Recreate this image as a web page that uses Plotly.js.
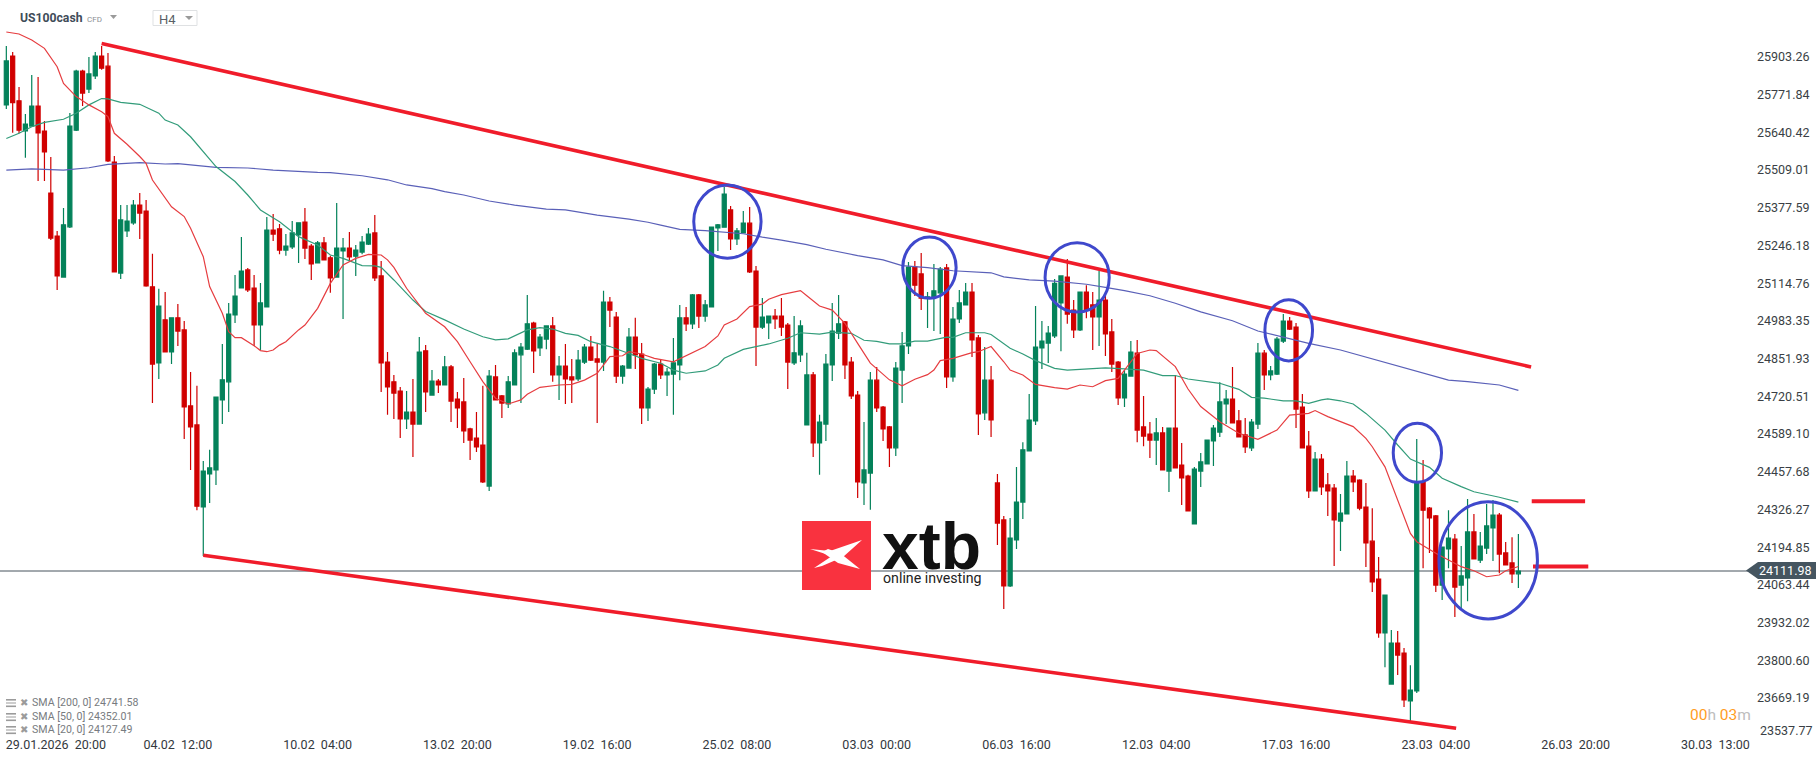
<!DOCTYPE html>
<html><head><meta charset="utf-8">
<script src="https://cdn.plot.ly/plotly-3.0.1.min.js"></script>
<style>html,body{margin:0;padding:0;background:#fff;overflow:hidden}#c{width:1816px;height:761px}</style>
</head><body><div id="c"></div>
<script>
const opens=[25736,25906,25750,25645,25662,25732,25645,25429,25279,25136,25311,25648,25854,25791,25837,25906,25871,25537,25150,25297,25325,25387,25366,25102,24837,24987,24875,24994,24952,24687,24621,24335,24450,24464,24708,24771,25004,25098,25161,25098,24969,25032,25300,25304,25230,25241,25283,25328,25244,25185,25255,25203,25136,
25227,25237,25209,25223,25251,25290,25140,24840,24771,24739,24642,24666,24624,24879,24725,24774,24760,24823,24711,24701,24607,24575,24551,24408,24788,24722,24694,24760,24865,24885,24976,24889,24920,24966,24795,24826,24788,24781,24840,24892,24851,24840,25049,24997,24791,24819,24927,24868,24680,24746,24833,24795,
24798,24830,24994,24973,25074,25000,25032,25307,25310,25370,25269,25290,25324,25157,24962,24976,25000,25000,24969,24837,24865,24621,24795,24558,24624,24830,24941,24980,24840,24725,24419,24453,24777,24683,24614,24541,24812,24896,25171,25147,25063,25067,25081,25168,24788,24990,25039,25084,24924,24663,24777,
24419,24290,24060,24220,24352,24530,24635,24889,24906,24931,25046,25136,25021,24952,25084,25039,24997,25056,24945,24840,24715,24791,24871,24614,24589,24568,24593,24460,24610,24481,24443,24276,24460,24485,24565,24596,24694,24711,24635,24586,24541,24624,24871,24795,24798,24913,24983,24962,24683,24547,24391,24502,24412,
24401,24286,24311,24443,24429,24335,24216,24084,23896,23718,23861,23826,23659,23694,24422,24331,24304,24063,24189,24223,24063,24088,24248,24150,24192,24262,24307,24175,24140,24102];
const highs=[25941,25920,25798,25704,25840,25833,25680,25554,25297,25377,25708,25858,25858,25903,25920,25941,25917,25558,25387,25387,25405,25429,25405,25217,25095,25084,24994,25042,24983,24805,24757,24495,24534,24718,24903,25046,25143,25276,25168,25143,25115,25345,25356,25321,25286,25331,25325,25377,25251,25262,25276,25210,25394,
25272,25293,25248,25279,25307,25352,25192,24875,24795,24753,24739,24781,24927,24899,24812,24781,24861,24830,24736,24784,24611,24666,24757,24812,24830,24725,24791,24885,24906,25074,24980,24938,24966,24997,24861,24903,24851,24882,24903,24931,24903,25088,25067,25014,24830,24959,24994,24906,24753,24837,24847,24819,
24924,25039,25032,25077,25077,25056,25310,25321,25450,25384,25307,25366,25380,25175,25063,25000,25025,25063,24976,25000,24986,24872,24805,24656,24868,25046,25074,24983,24858,24739,24631,24805,24823,24687,24617,24840,24945,25189,25192,25220,25084,25182,25171,25182,25032,25091,25115,25115,24934,24892,24826,
24450,24304,24297,24474,24561,24729,25035,24983,24966,25129,25140,25199,25056,25084,25108,25084,25157,25074,24990,24844,24812,24913,24917,24722,24631,24645,24614,24610,24795,24558,24447,24474,24523,24568,24621,24770,24743,24823,24673,24645,24642,24906,24882,24826,24927,25007,24997,24976,24729,24600,24527,24520,24453,
24415,24380,24495,24464,24432,24419,24331,24161,24028,23906,23903,23844,23784,24572,24499,24335,24307,24195,24324,24241,24199,24363,24311,24248,24345,24359,24314,24213,24230,24241];
const lows=[25722,25639,25637,25552,25662,25471,25471,25265,25091,25136,25307,25645,25732,25777,25826,25858,25537,25154,25129,25276,25318,25269,25102,24697,24781,24875,24833,24896,24572,24464,24324,24164,24349,24412,24624,24666,24976,25098,25084,24896,24882,25032,25262,25216,25210,25234,25185,25199,25126,25185,25196,25081,25136,
24990,25192,25140,25216,25248,25122,24736,24656,24642,24575,24607,24509,24624,24666,24725,24732,24760,24631,24610,24558,24499,24527,24419,24391,24708,24645,24680,24760,24697,24882,24802,24861,24885,24771,24708,24694,24697,24774,24833,24844,24628,24809,24962,24767,24764,24819,24816,24624,24635,24729,24781,24722,
24656,24777,24948,24955,24959,24980,25032,25227,25310,25230,25248,25290,25150,24826,24955,24920,24955,24931,24746,24830,24840,24621,24509,24447,24565,24774,24920,24781,24711,24366,24342,24325,24666,24565,24474,24513,24697,24868,25070,25021,24959,24948,24938,24750,24771,24976,25039,24858,24586,24638,24579,
24203,23980,24056,24189,24293,24530,24621,24816,24837,24924,24878,24973,24924,24948,24993,24882,24896,24861,24805,24690,24683,24791,24561,24547,24506,24481,24464,24387,24471,24342,24321,24276,24405,24485,24478,24579,24624,24628,24579,24523,24530,24607,24743,24777,24795,24906,24952,24610,24541,24366,24391,24377,24304,
24129,24182,24311,24387,24324,24126,24039,23879,23777,23718,23750,23638,23586,23687,24122,24175,24039,24011,24122,23952,23983,24007,24154,24140,24171,24147,24104,24133,24070,24053];
const closes=[25889,25744,25648,25669,25732,25638,25572,25272,25140,25318,25662,25854,25777,25844,25906,25864,25541,25154,25335,25331,25387,25359,25105,24833,25035,24875,24994,24948,24684,24614,24338,24460,24471,24718,24778,25007,25070,25157,25091,24969,25046,25300,25286,25230,25244,25290,25325,25237,25182,25255,25196,25133,25237,
25237,25206,25230,25258,25286,25133,24837,24753,24732,24642,24666,24624,24875,24736,24774,24760,24823,24704,24680,24600,24568,24544,24422,24791,24708,24697,24771,24872,24892,24973,24879,24927,24966,24795,24826,24781,24778,24847,24892,24847,24840,25049,25021,24791,24826,24927,24865,24680,24746,24833,24795,24805,
24837,24994,24973,25074,25000,25039,25310,25318,25425,25269,25297,25324,25154,24962,24997,25000,24990,24962,24840,24872,24966,24795,24558,24631,24833,24948,24973,24830,24722,24422,24464,24777,24680,24607,24541,24819,24896,25171,25108,25063,25067,25088,25164,24788,24990,25046,25084,24917,24659,24777,24638,
24279,24060,24227,24352,24534,24638,24892,24913,24941,25114,25140,25007,24952,25084,25021,24997,25056,24938,24833,24715,24798,24875,24603,24582,24568,24593,24464,24610,24471,24436,24321,24467,24492,24568,24610,24701,24711,24628,24579,24544,24631,24871,24795,24809,24920,24983,24955,24676,24541,24391,24502,24405,24391,
24290,24314,24443,24422,24331,24210,24074,23896,24028,23861,23819,23663,23697,24422,24324,24297,24063,24195,24227,24056,24095,24248,24154,24199,24269,24307,24171,24133,24102,24111.98];
if(new Set([opens.length,highs.length,lows.length,closes.length]).size!==1) throw new Error('lengths '+[opens.length,highs.length,lows.length,closes.length]);
const barIndex=opens.map((_,i)=>i);

const sma20Idx=[0,2,4,6,8,9,11,13,15,16,17,19,21,22,23,26,28,29,31,32,34,35,36,37,39,40,41,42,43,44,46,47,49,51,53,55,57,59,60,61,63,65,66,69,71,73,75,77,79,81,82,84,87,89,91,93,95,97,98,100,102,105,107,110,112,113,115,117,119,120,122,125,126,128,130,132,134,136,139,141,143,145,146,147,149,152,153,155,157,158,160,162,165,167,169,171,173,175,176,178,180,181,184,186,188,191,194,197,200,202,205,206,208,210,212,214,215,217,219,221,222,225,229,231,233,235,236,238];
const sma20Val=[25990,25983,25962,25933,25869,25811,25765,25736,25712,25695,25637,25599,25556,25532,25474,25381,25347,25306,25207,25103,25010,24946,24925,24925,24897,24880,24876,24882,24899,24911,24952,24969,25027,25114,25178,25201,25215,25213,25196,25170,25097,25039,25010,24963,24911,24841,24772,24714,24694,24708,24728,24752,24760,24762,24777,24801,24859,24862,24876,24868,24853,24841,24862,24894,24931,24969,24990,25033,25042,25059,25075,25089,25071,25035,25021,24975,24905,24836,24778,24757,24780,24796,24812,24845,24853,24873,24876,24894,24841,24812,24795,24762,24751,24746,24760,24754,24775,24783,24812,24870,24882,24880,24824,24746,24685,24632,24592,24571,24603,24655,24661,24671,24650,24632,24615,24574,24545,24475,24359,24243,24214,24174,24127,24113,24092,24098,24113,24127.49];
const sma50Idx=[0,2,4,6,9,11,13,15,16,18,21,24,25,27,29,31,33,36,38,40,43,46,49,51,53,56,58,59,61,64,66,69,72,75,77,79,82,84,86,88,90,92,95,98,100,103,105,107,110,112,113,116,120,123,125,128,130,133,135,137,139,141,143,145,148,149,151,154,155,158,160,162,165,167,170,173,176,179,182,184,186,188,191,194,196,198,201,203,205,207,208,210,212,214,216,217,219,221,224,226,229,231,235,238];
const sma50Val=[25619,25637,25660,25675,25686,25707,25736,25758,25757,25745,25738,25707,25683,25666,25625,25573,25521,25469,25422,25370,25329,25277,25248,25213,25201,25176,25175,25170,25126,25056,25016,24987,24955,24928,24917,24921,24952,24960,24955,24940,24933,24911,24894,24870,24853,24836,24812,24801,24809,24830,24853,24884,24903,24923,24942,24937,24944,24940,24916,24912,24903,24903,24913,24913,24927,24926,24942,24942,24936,24888,24868,24845,24818,24812,24816,24820,24816,24812,24793,24793,24781,24774,24766,24745,24717,24714,24705,24705,24696,24708,24712,24705,24694,24661,24621,24603,24551,24502,24473,24435,24406,24388,24369,24352.01];
const sma200Idx=[0,4,9,13,16,21,25,27,33,38,42,46,49,51,54,56,60,63,67,69,72,76,80,85,88,93,98,101,103,106,110,116,119,122,126,129,134,138,141,145,149,153,155,157,161,165,170,173,176,180,184,188,193,197,201,205,210,227,230,235,238];
const sma200Val=[25509,25513,25509,25517,25529,25535,25530,25531,25518,25516,25509,25503,25501,25500,25494,25489,25475,25457,25444,25434,25422,25401,25387,25373,25370,25352,25338,25327,25317,25302,25298,25287,25275,25265,25249,25233,25211,25196,25176,25169,25158,25155,25151,25137,25126,25122,25111,25100,25089,25071,25045,25015,24984,24948,24926,24905,24882,24777,24772,24760,24741.58];

const priceTicks=[25903.26,25771.84,25640.42,25509.01,25377.59,25246.18,25114.76,24983.35,24851.93,24720.51,24589.10,24457.68,24326.27,24194.85,24063.44,23932.02,23800.60,23669.19];
const dateTicks=["29.01.2026  20:00","04.02  12:00","10.02  04:00","13.02  20:00","19.02  16:00","25.02  08:00","03.03  00:00","06.03  16:00","12.03  04:00","17.03  16:00","23.03  04:00","26.03  20:00","30.03  13:00"];
const dateTickIdx=[7.8,27,49,71,93,115,137,159,181,203,225,247,269];
const lastPrice=24111.98;
const legendRows=["SMA [200, 0] 24741.58","SMA [50, 0] 24352.01","SMA [20, 0] 24127.49"];
// trend lines: [idx0, price0, idx1, price1]
const channelUpper=[15,25950,240,24823];
const channelLower=[31,24167,228.2,23564];
const levelUpper=[240.1,24355,248.5,24355];
const levelLower=[240.3,24128,249,24128];
// highlighted ellipses: [idx0, idx1, priceLow, priceHigh]
const highlights=[[108.2,118.8,25202,25457],[141.1,149.5,25062,25276],[163.5,173.6,25014,25256],[198.1,205.6,24844,25057],[218.3,225.9,24421,24627],[225.5,241,23945,24353]];

const PW=1756,PH=735;
const px=x=>x/PW, py=y=>1-y/PH;
const GREEN='#04825a',RED='#d00000';
const candle={type:'candlestick',x:barIndex,open:opens,high:highs,low:lows,close:closes,
  increasing:{line:{color:GREEN,width:1.2},fillcolor:GREEN},
  decreasing:{line:{color:RED,width:1.2},fillcolor:RED},
  whiskerwidth:0,hoverinfo:'skip',showlegend:false};
const sma=(x,y,c)=>({type:'scatter',mode:'lines',x,y,line:{color:c,width:1.2,shape:'linear'},hoverinfo:'skip',showlegend:false});
const traces=[sma(sma200Idx,sma200Val,'#5a60b8'),candle,sma(sma50Idx,sma50Val,'#329c7a'),sma(sma20Idx,sma20Val,'#e63d40')];

const pathOf=pts=>'M'+pts.map(p=>px(p[0])+' '+py(p[1])).join('L')+'Z';
const shapes=[];
shapes.push({type:'line',xref:'paper',yref:'y',x0:0,x1:px(1748),y0:lastPrice,y1:lastPrice,line:{color:'#46525c',width:1},layer:'below'});
[channelUpper,channelLower].forEach(l=>shapes.push({type:'line',x0:l[0],y0:l[1],x1:l[2],y1:l[3],line:{color:'#f01c2a',width:3.6}}));
[levelUpper,levelLower].forEach(l=>shapes.push({type:'line',x0:l[0],y0:l[1],x1:l[2],y1:l[3],line:{color:'#f01c2a',width:4}}));
highlights.forEach(e=>shapes.push({type:'circle',x0:e[0],x1:e[1],y0:e[2],y1:e[3],line:{color:'#3f48cc',width:3},fillcolor:'rgba(0,0,0,0)'}));
// price tag
shapes.push({type:'path',xref:'paper',yref:'paper',path:pathOf([[1746,570.5],[1758,562],[1816,562],[1816,579],[1758,579]]),fillcolor:'#455560',line:{width:0}});
// header furniture
const tri=(x,y,w,h,c)=>({type:'path',xref:'paper',yref:'paper',path:pathOf([[x,y],[x+w,y],[x+w/2,y+h]]),fillcolor:c,line:{width:0}});
shapes.push(tri(110,15,7,4,'#9a9a9a'));
shapes.push({type:'rect',xref:'paper',yref:'paper',x0:px(153),x1:px(197),y0:py(10.5),y1:py(25.5),line:{color:'#dfe1e3',width:1},fillcolor:'#fff'});
shapes.push(tri(185,16,8,4,'#9a9a9a'));
// logo
shapes.push({type:'rect',xref:'paper',yref:'paper',x0:px(802),x1:px(871),y0:py(521),y1:py(590),line:{width:0},fillcolor:'#f9323f'});
shapes.push({type:'path',xref:'paper',yref:'paper',path:pathOf([[810,549],[830,551],[862,540],[843,557],[822,566],[814,568],[832,556]]),fillcolor:'#fff',line:{width:0}});
shapes.push({type:'path',xref:'paper',yref:'paper',path:pathOf([[828,549],[840,553],[860,569],[838,563],[822,552]]),fillcolor:'#fff',line:{width:0}});
// legend icons
[702,716,729].forEach(y=>{
 [ -3, 0.5, 3.5 ].forEach((d,k)=>shapes.push({type:'rect',xref:'paper',yref:'paper',x0:px(6),x1:px(16),y0:py(y+d),y1:py(y+d+(k==1?1:1.6)),line:{width:0},fillcolor:'#9b9b9b'}));
});

const ann=(x,y,text,size,color,o={})=>Object.assign({xref:'paper',yref:'paper',x:px(x),y:py(y),text,showarrow:false,xanchor:'left',yanchor:'middle',borderpad:0,font:{family:'Roboto, sans-serif',size,color}},o);
const annotations=[
 ann(19,18,'<b>US100cash</b>',12.2,'#3f4c59'),
 ann(86,19,'CFD',8,'#8b8f94'),
 ann(158,19.5,'H4',13,'#5a5f66'),
 ann(1759,730.7,'23537.77',12.5,'#3a3f45'),
 ann(1758,570.5,lastPrice.toFixed(2),12.5,'#ffffff'),
 ann(1689,715,'<span style="color:#ff9d1e">00</span><span style="color:#bdbdbd">h</span> <span style="color:#ff9d1e">03</span><span style="color:#bdbdbd">m</span>',15.5,'#ff9d1e'),
 ann(881,546,'<b>xtb</b>',66,'#111111',{font:{family:'"Liberation Sans", sans-serif',size:66,color:'#111111'}}),
 ann(882,578,'online investing',14.2,'#222222'),
];
[702,716,729].forEach((y,k)=>{
 annotations.push(ann(19,y,'✖',10,'#9b9b9b',{font:{family:'"DejaVu Sans"',size:10,color:'#9b9b9b'}}));
 annotations.push(ann(31,y,legendRows[k],10.6,'#777b80'));
});

const layout={width:1816,height:761,margin:{l:0,r:60,t:0,b:26,pad:0},paper_bgcolor:'#fff',plot_bgcolor:'#fff',showlegend:false,
 boxgap:0.2,boxgroupgap:0.2,shapes,annotations,
 font:{family:'Roboto, sans-serif'},
 xaxis:{type:'linear',range:[-0.996,275.4],rangeslider:{visible:false},showgrid:false,zeroline:false,showline:false,ticks:'',tickmode:'array',tickvals:dateTickIdx,ticktext:dateTicks,tickangle:0,tickfont:{family:'Roboto, sans-serif',size:12.5,color:'#33383e'},automargin:false},
 yaxis:{type:'linear',side:'right',range:[23540.6,26101.4],showgrid:false,zeroline:false,showline:false,ticks:'',tickmode:'array',tickvals:priceTicks,ticktext:priceTicks.map(v=>v.toFixed(2)),tickfont:{family:'Roboto, sans-serif',size:12.5,color:'#3a3f45'},automargin:false}
};
Plotly.newPlot('c',traces,layout,{staticPlot:true,displayModeBar:false,responsive:false});
</script></body></html>
